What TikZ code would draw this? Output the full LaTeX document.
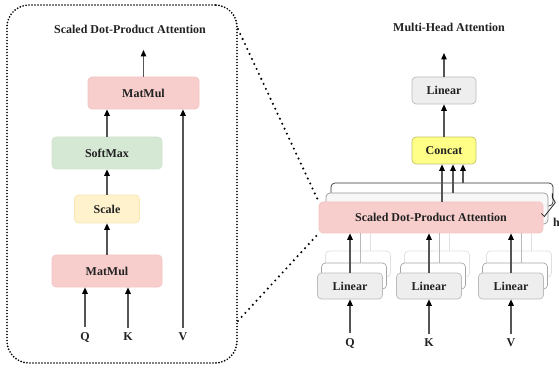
\documentclass[tikz,border=0pt]{standalone}
\usepackage{fontspec}
\setmainfont{Liberation Serif}
\usetikzlibrary{arrows.meta,positioning,calc}
\definecolor{ink}{HTML}{222222}
\definecolor{wire}{HTML}{555555}
\definecolor{pinkfill}{HTML}{F8CECC}
\definecolor{pinkline}{HTML}{F2C4C2}
\definecolor{greenfill}{HTML}{D5E8D4}
\definecolor{greenline}{HTML}{CFE3CE}
\definecolor{yellowpale}{HTML}{FFF2CC}
\definecolor{yellowline}{HTML}{F6E6B4}
\definecolor{concatfill}{HTML}{FFFF88}
\definecolor{concatline}{HTML}{C4C46A}
\definecolor{grayfill}{HTML}{EEEEEE}
\definecolor{grayline}{HTML}{BBBBBB}
\tikzset{
  >={Triangle[length=6.5pt,width=5.5pt,color=black]},
  lbl/.style={font=\bfseries\fontsize{12}{14}\selectfont, text=ink, inner sep=1pt},
  block/.style={lbl, rounded corners=4pt, line width=.7pt, inner sep=0pt},
  flow/.style={->, line width=1.3pt, color=wire},
  ghost/.style={line width=.8pt},
  zoomframe/.style={draw=black, line width=1.9pt, line cap=round, dash pattern=on 0pt off 3pt, rounded corners=22pt},
  zoomline/.style={draw=black, line width=2.3pt, line cap=round, dash pattern=on 0pt off 5.5pt}
}

\begin{document}
\begin{tikzpicture}[x=1pt,y=-1pt]
  \useasboundingbox (0,0) rectangle (559,371);

  % inside one attention head
  \node[zoomframe,minimum width=230pt,minimum height=358pt] (frame) at (122,184) {};
  \node[lbl] (sdpatitle) at (130,29) {Scaled Dot-Product Attention};
  \node[block,fill=pinkfill,draw=pinkline,minimum width=111pt,minimum height=32pt] (mmtop) at (143.5,93) {MatMul};
  \node[block,fill=greenfill,draw=greenline,minimum width=110pt,minimum height=32pt] (soft) at (107,153) {SoftMax};
  \node[block,fill=yellowpale,draw=yellowline,minimum width=65pt,minimum height=28pt] (scale) at (107,209) {Scale};
  \node[block,fill=pinkfill,draw=pinkline,minimum width=110pt,minimum height=32pt] (mmbot) at (107,271) {MatMul};
  \coordinate (mmout) at (143.5,50);
  \draw[flow] (mmtop) -- (mmout);
  \draw[flow] (soft.north) -- (soft.north |- mmtop.south);
  \draw[flow] (scale) -- (soft);
  \draw[flow] (mmbot) -- (scale);
  \foreach \nm/\x/\txt in {q/85/Q,k/128/K}{
    \node[lbl] (in\nm) at (\x,337) {\txt};
    \draw[flow,shorten <=4pt] (in\nm) -- (in\nm |- mmbot.south);
  }
  \node[lbl] (inv) at (183,337) {V};
  \draw[flow,shorten <=4pt] (inv) -- (inv |- mmtop.south);

  % multi-head side
  \node[lbl] (mhtitle) at (449,27) {Multi-Head Attention};
  \node[block,fill=grayfill,draw=grayline,minimum width=64pt,minimum height=27pt] (linout) at (444,90.5) {Linear};
  \node[block,fill=concatfill,draw=concatline,minimum width=64pt,minimum height=27pt] (concat) at (444,150.5) {Concat};
  \coordinate (mhout) at (444,53);
  \draw[flow] (linout) -- (mhout);
  \draw[flow] (concat) -- (linout);

  % stacked heads, back to front
  \node[block,fill=white,draw=black!80,minimum width=222pt,minimum height=23pt] (head3) at (442,194.5) {};
  \node[block,fill=black!3,draw=black!40,minimum width=222pt,minimum height=31pt] (head2) at (437,208.5) {};
  \node[block,fill=pinkfill,draw=pinkline,minimum width=224pt,minimum height=31pt] (sdpa) at (431,217.5) {Scaled Dot-Product Attention};
  \draw[flow] ([xshift=21pt]head3.north) -- ([xshift=21pt]head3.north |- concat.south);
  \draw[flow] ([xshift=16pt]head2.north) -- ([xshift=16pt]head2.north |- concat.south);
  \draw[flow] ([xshift=11pt]sdpa.north) -- ([xshift=11pt]sdpa.north |- concat.south);
  \draw[black!85,line width=.8pt,line join=round]
    ($(head3.east)+(-1,-1)$) -- ++(0,4) -- ++(3,5) -- ++(-11,14) -- ++(-3,-3);
  \node[lbl,anchor=west] (heads) at (552,222) {h};

  % linear projections per input
  \foreach \nm/\x/\txt in {q/350/Q,k/429/K,v/511/V}{
    \node[block,fill=white,draw=black!12,minimum width=65pt,minimum height=26pt] (lin\nm c) at (\x+8,264) {};
    \node[block,fill=white,draw=black!35,minimum width=65pt,minimum height=26pt] (lin\nm b) at (\x+4,276) {};
    \node[block,fill=grayfill,draw=grayline,minimum width=65pt,minimum height=26pt] (lin\nm) at (\x,286) {Linear};
    \draw[black!12,ghost] ([xshift=12pt]lin\nm c.north) -- ([xshift=12pt]lin\nm c.north |- sdpa.south);
    \draw[black!28,ghost] ([xshift=6pt]lin\nm b.north) -- ([xshift=6pt]lin\nm b.north |- sdpa.south);
    \draw[flow] (lin\nm) -- (lin\nm |- sdpa.south);
    \node[lbl] (mh\nm) at (\x,343) {\txt};
    \draw[flow,shorten <=4pt] (mh\nm) -- (mh\nm |- lin\nm.south);
  }

  % dotted zoom lines
  \draw[zoomline] ([yshift=-25pt]frame.north east) -- (sdpa.north west);
  \draw[zoomline] ([yshift=43pt]frame.south east) -- (sdpa.south west);
\end{tikzpicture}
\end{document}
